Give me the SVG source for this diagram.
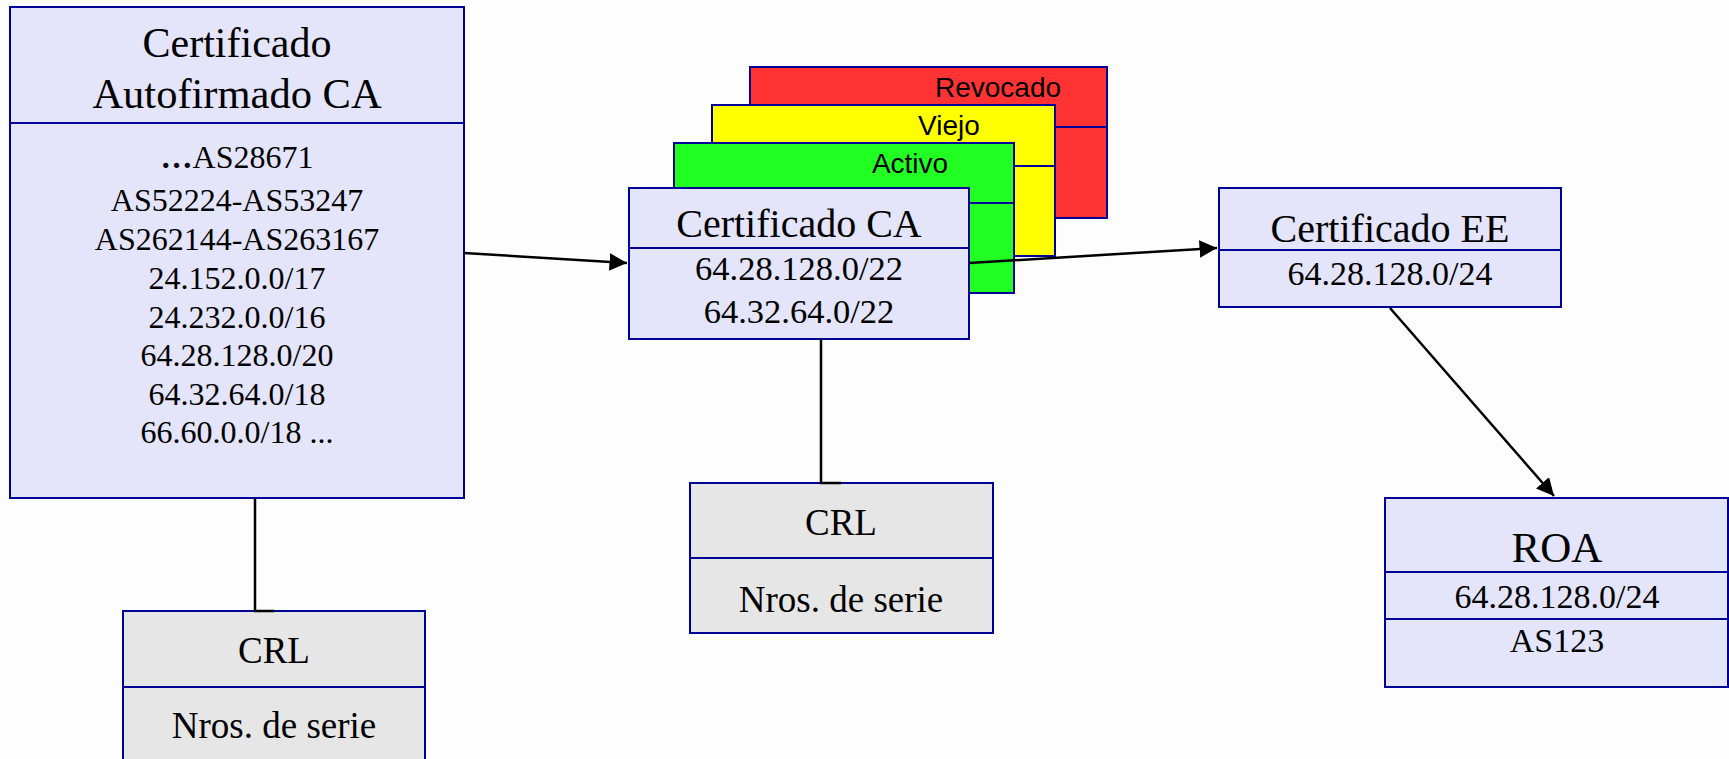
<svg xmlns="http://www.w3.org/2000/svg" width="1729" height="759" viewBox="0 0 1729 759">
<defs>
<style>
.box{fill:#e4e4fa;stroke:#000096;stroke-width:2}
.grey{fill:#e6e6e6;stroke:#000096;stroke-width:2}
.div{stroke:#000096;stroke-width:2;fill:none}
.t{font-family:"Liberation Serif","Times New Roman",serif;fill:#000;text-anchor:middle}
.s{font-family:"Liberation Sans",Arial,sans-serif;fill:#000;text-anchor:middle;font-size:28px}
.con{stroke:#000;stroke-width:2.5;fill:none}
</style>
<marker id="arr" viewBox="0 0 10 10" refX="10" refY="5" markerWidth="7" markerHeight="7" markerUnits="strokeWidth" orient="auto">
<path d="M0,0 L10,5 L0,10 z" fill="#000"/>
</marker>
</defs>
<rect width="1729" height="759" fill="#fdfdfd"/>

<g id="root-ca">
<rect class="box" x="10" y="7" width="454" height="491"/>
<line class="div" x1="10" y1="123" x2="464" y2="123"/>
<text class="t" x="237" y="57" font-size="42">Certificado</text>
<text class="t" x="237" y="108" font-size="42.5">Autofirmado CA</text>
<g class="t" font-size="32">
<text x="237" y="168"><tspan font-weight="bold">…</tspan>AS28671</text>
<text x="237" y="211">AS52224-AS53247</text>
<text x="237" y="250">AS262144-AS263167</text>
<text x="237" y="289">24.152.0.0/17</text>
<text x="237" y="328">24.232.0.0/16</text>
<text x="237" y="366">64.28.128.0/20</text>
<text x="237" y="405">64.32.64.0/18</text>
<text x="237" y="443">66.60.0.0/18 ...</text>
</g>
</g>

<g id="card-revocado">
<rect x="750" y="67" width="357" height="151" fill="#ff3333" stroke="#000096" stroke-width="2"/>
<line class="div" x1="750" y1="127" x2="1107" y2="127"/>
<text class="s" x="998" y="97">Revocado</text>
</g>
<g id="card-viejo">
<rect x="712" y="105" width="343" height="151" fill="#ffff00" stroke="#000096" stroke-width="2"/>
<line class="div" x1="712" y1="166" x2="1055" y2="166"/>
<text class="s" x="949" y="135">Viejo</text>
</g>
<g id="card-activo">
<rect x="674" y="143" width="340" height="150" fill="#22ff22" stroke="#000096" stroke-width="2"/>
<line class="div" x1="674" y1="203" x2="1014" y2="203"/>
<text class="s" x="910" y="173">Activo</text>
</g>

<g id="cert-ca">
<rect class="box" x="629" y="188" width="340" height="151"/>
<line class="div" x1="629" y1="248" x2="969" y2="248"/>
<text class="t" x="799" y="237" font-size="40">Certificado CA</text>
<text class="t" x="799" y="280" font-size="34.5">64.28.128.0/22</text>
<text class="t" x="799" y="323" font-size="34.5">64.32.64.0/22</text>
</g>

<g id="cert-ee">
<rect class="box" x="1219" y="188" width="342" height="119"/>
<line class="div" x1="1219" y1="250" x2="1561" y2="250"/>
<text class="t" x="1390" y="242" font-size="40">Certificado EE</text>
<text class="t" x="1390" y="285" font-size="34">64.28.128.0/24</text>
</g>

<g id="roa">
<rect class="box" x="1385" y="498" width="343" height="189"/>
<line class="div" x1="1385" y1="572" x2="1728" y2="572"/>
<line class="div" x1="1385" y1="619" x2="1728" y2="619"/>
<text class="t" x="1557" y="562" font-size="43">ROA</text>
<text class="t" x="1557" y="608" font-size="34">64.28.128.0/24</text>
<text class="t" x="1557" y="652" font-size="34">AS123</text>
</g>

<g id="crl-root">
<rect class="grey" x="123" y="611" width="302" height="160"/>
<line class="div" x1="123" y1="687" x2="425" y2="687"/>
<text class="t" x="274" y="663" font-size="37">CRL</text>
<text class="t" x="274" y="738" font-size="37">Nros. de serie</text>
</g>

<g id="crl-ca">
<rect class="grey" x="690" y="483" width="303" height="150"/>
<line class="div" x1="690" y1="558" x2="993" y2="558"/>
<text class="t" x="841" y="535" font-size="37">CRL</text>
<text class="t" x="841" y="612" font-size="37">Nros. de serie</text>
</g>

<g id="connectors">
<line class="con" x1="464" y1="253" x2="627" y2="263" marker-end="url(#arr)"/>
<line class="con" x1="969" y1="263" x2="1217" y2="248" marker-end="url(#arr)"/>
<line class="con" x1="1390" y1="308" x2="1554" y2="496" marker-end="url(#arr)"/>
<polyline class="con" stroke-width="2" points="255,498 255,611 274,611"/>
<polyline class="con" stroke-width="2" points="821,339 821,483 841,483"/>
</g>
</svg>
